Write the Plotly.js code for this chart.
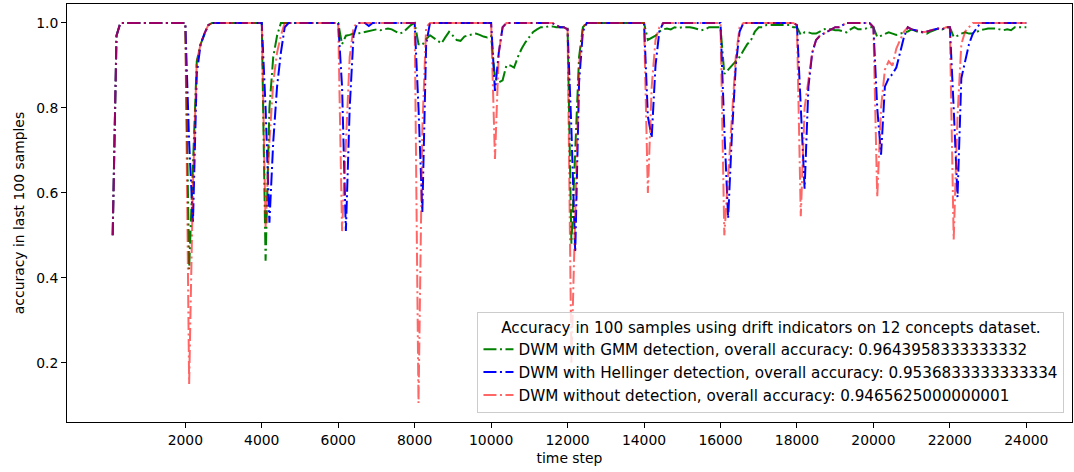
<!DOCTYPE html>
<html>
<head>
<meta charset="utf-8">
<script src="https://cdn.plot.ly/plotly-3.0.1.min.js"></script>
<style>
html,body{margin:0;padding:0;background:#fff;}
#chart{width:1074px;height:472px;}
</style>
</head>
<body>
<div id="chart"></div>
<script>
const timeSteps = [
  100,200,300,400,500,600,700,800,900,1000,1100,1200,1300,1400,1500,1600,1700,1800,1900,2000,
  2100,2200,2300,2400,2500,2600,2700,2800,2900,3000,3100,3200,3300,3400,3500,3600,3700,3800,3900,4000,
  4100,4200,4300,4400,4500,4600,4700,4800,4900,5000,5100,5200,5300,5400,5500,5600,5700,5800,5900,6000,
  6100,6200,6300,6400,6500,6600,6700,6800,6900,7000,7100,7200,7300,7400,7500,7600,7700,7800,7900,8000,
  8100,8200,8300,8400,8500,8600,8700,8800,8900,9000,9100,9200,9300,9400,9500,9600,9700,9800,9900,10000,
  10100,10200,10300,10400,10500,10600,10700,10800,10900,11000,11100,11200,11300,11400,11500,11600,11700,11800,11900,12000,
  12100,12200,12300,12400,12500,12600,12700,12800,12900,13000,13100,13200,13300,13400,13500,13600,13700,13800,13900,14000,
  14100,14200,14300,14400,14500,14600,14700,14800,14900,15000,15100,15200,15300,15400,15500,15600,15700,15800,15900,16000,
  16100,16200,16300,16400,16500,16600,16700,16800,16900,17000,17100,17200,17300,17400,17500,17600,17700,17800,17900,18000,
  18100,18200,18300,18400,18500,18600,18700,18800,18900,19000,19100,19200,19300,19400,19500,19600,19700,19800,19900,20000,
  20100,20200,20300,20400,20500,20600,20700,20800,20900,21000,21100,21200,21300,21400,21500,21600,21700,21800,21900,22000,
  22100,22200,22300,22400,22500,22600,22700,22800,22900,23000,23100,23200,23300,23400,23500,23600,23700,23800,23900,24000
];

const accGMM = [
  0.50,0.97,1,1,1,1,1,1,1,1,1,1,1,1,1,1,1,1,1,1,
  0.42,0.65,0.91,0.95,0.975,0.995,1,1,1,1,1,1,1,1,1,1,1,1,1,1,
  0.44,0.80,0.92,0.97,1,1,1,1,1,1,1,1,1,1,1,1,1,1,1,1,
  0.95,0.97,0.972,0.975,0.975,0.977,0.98,0.982,0.983,0.985,0.983,0.985,0.987,0.985,0.98,0.975,0.978,0.987,0.995,1,
  0.95,0.948,0.962,0.971,0.965,0.958,0.952,0.966,0.979,0.97,0.96,0.958,0.968,0.971,0.973,0.975,0.972,0.968,0.966,0.97,
  0.87,0.86,0.865,0.90,0.90,0.895,0.92,0.94,0.955,0.967,0.979,0.985,0.99,0.99,0.992,0.992,0.99,0.99,0.99,0.99,
  0.48,0.70,0.92,0.99,1,1,1,1,1,1,1,1,1,1,1,1,1,1,1,1,
  0.96,0.965,0.97,0.98,0.985,0.987,0.985,0.99,0.988,0.99,0.99,0.99,0.988,0.985,0.983,0.985,0.99,0.99,0.99,0.99,
  0.88,0.89,0.90,0.91,0.92,0.935,0.95,0.96,0.98,0.99,0.99,0.995,0.995,0.995,0.995,0.995,0.995,0.995,0.99,0.99,
  0.972,0.978,0.978,0.975,0.975,0.98,0.985,0.987,0.985,0.983,0.983,0.98,0.978,0.985,0.99,0.985,0.985,0.987,0.99,0.99,
  0.967,0.97,0.975,0.978,0.975,0.972,0.975,0.978,0.98,0.985,0.982,0.978,0.978,0.975,0.98,0.983,0.987,0.985,0.99,0.99,
  0.967,0.97,0.975,0.978,0.975,0.975,0.98,0.983,0.985,0.987,0.987,0.987,0.985,0.983,0.985,0.983,0.99,0.99,0.99,0.99
];

const accHellinger = [
  0.50,0.97,1,1,1,1,1,1,1,1,1,1,1,1,1,1,1,1,1,1,
  0.72,0.53,0.88,0.95,0.975,0.995,1,1,1,1,1,1,1,1,1,1,1,1,1,1,
  0.80,0.53,0.72,0.85,0.93,0.99,1,1,1,1,1,1,1,1,1,1,1,1,1,1,
  0.85,0.51,0.80,0.97,1,1,1,0.993,1,1,1,1,1,1,1,1,1,1,1,1,
  0.80,0.555,0.95,1,1,1,1,1,1,1,1,1,1,1,1,1,1,1,1,1,
  0.84,0.93,0.99,1,1,1,1,1,1,1,1,1,1,1,1,1,0.995,0.99,0.99,0.985,
  0.75,0.46,0.86,0.98,1,1,1,1,1,1,1,1,1,1,1,1,1,1,1,1,
  0.78,0.73,0.90,0.98,1,1,1,1,1,1,1,1,1,1,1,1,1,1,1,1,
  0.75,0.54,0.74,0.90,0.98,1,1,1,1,1,1,1,1,1,1,1,1,1,1,0.995,
  0.80,0.61,0.85,0.93,0.96,0.97,0.975,0.98,0.985,0.99,0.99,0.995,1,1,1,1,1,1,1,0.99,
  0.80,0.69,0.85,0.87,0.88,0.895,0.93,0.967,0.99,0.985,0.983,0.98,0.978,0.98,0.983,0.985,0.987,0.985,0.99,0.99,
  0.80,0.59,0.87,0.91,0.95,0.975,0.987,1,1,1,1,1,1,1,1,1,1,1,1,1
];

const accNoDetection = [
  0.50,0.97,1,1,1,1,1,1,1,1,1,1,1,1,1,1,1,1,1,1,
  0.15,0.62,0.91,0.95,0.975,0.995,1,1,1,1,1,1,1,1,1,1,1,1,1,1,
  0.52,0.72,0.86,0.93,0.97,1,1,1,1,1,1,1,1,1,1,1,1,1,1,1,
  0.51,0.70,0.92,0.99,1,1,1,1,1,1,1,1,1,1,1,1,1,1,1,1,
  0.105,0.75,0.99,1,1,1,1,1,1,1,1,1,1,1,1,1,1,1,1,1,
  0.68,0.93,0.99,1,1,1,1,1,1,1,1,1,1,1,1,1,0.995,0.99,0.99,0.985,
  0.20,0.55,0.90,0.99,1,1,1,1,1,1,1,1,1,1,1,1,1,1,1,1,
  0.60,0.85,0.96,0.99,1,1,1,1,1,1,1,1,1,1,1,1,1,1,1,1,
  0.50,0.65,0.78,0.92,0.99,1,1,1,1,1,1,1,1,1,1,1,1,1,1,0.995,
  0.545,0.80,0.87,0.93,0.96,0.97,0.975,0.98,0.985,0.99,0.99,0.995,1,1,1,1,1,1,1,0.99,
  0.59,0.80,0.89,0.91,0.90,0.94,0.96,0.98,0.99,0.985,0.983,0.98,0.978,0.98,0.983,0.985,0.987,0.985,0.99,0.99,
  0.49,0.78,0.95,0.98,0.99,1,1,1,1,1,1,1,1,1,1,1,1,1,1,1
];

const seriesNames = [
  "DWM with GMM detection, overall accuracy: 0.9643958333333332",
  "DWM with Hellinger detection, overall accuracy: 0.9536833333333334",
  "DWM without detection, overall accuracy: 0.9465625000000001"
];
const legendTitle = "Accuracy in 100 samples using drift indicators on 12 concepts dataset.";
const xTickVals = [2000,4000,6000,8000,10000,12000,14000,16000,18000,20000,22000,24000];
const xTickText = ["2000","4000","6000","8000","10000","12000","14000","16000","18000","20000","22000","24000"];
const yTickVals = [0.2,0.4,0.6,0.8,1.0];
const yTickText = ["0.2","0.4","0.6","0.8","1.0"];

const FONT = "DejaVu Sans, sans-serif";
const dashDot = "13px,3.5px,2px,3.5px";

const traces = [
  {x: timeSteps, y: accGMM, name: seriesNames[0], type: "scatter", mode: "lines",
   line: {color: "green", width: 2, dash: dashDot}},
  {x: timeSteps, y: accHellinger, name: seriesNames[1], type: "scatter", mode: "lines",
   line: {color: "blue", width: 2, dash: dashDot}},
  {x: timeSteps, y: accNoDetection, name: seriesNames[2], type: "scatter", mode: "lines",
   line: {color: "rgba(255,0,0,0.6)", width: 2, dash: dashDot}}
];

const layout = {
  width: 1074, height: 472,
  margin: {l: 67, r: 2, t: 4, b: 50, pad: 0},
  paper_bgcolor: "#fff", plot_bgcolor: "#fff",
  font: {family: FONT, size: 13.9, color: "#000"},
  showlegend: true,
  xaxis: {
    range: [-1095, 25195], tickvals: xTickVals, ticktext: xTickText,
    ticks: "outside", ticklen: 5, tickwidth: 1, tickcolor: "#000",
    showline: true, mirror: true, linecolor: "#000", linewidth: 1,
    showgrid: false, zeroline: false,
    tickfont: {family: FONT, size: 13.9, color: "#000"},
    title: {text: "time step", font: {family: FONT, size: 13.9, color: "#000"}, standoff: 6}
  },
  yaxis: {
    range: [0.0605, 1.0447], tickvals: yTickVals, ticktext: yTickText,
    ticks: "outside", ticklen: 5, tickwidth: 1, tickcolor: "#000",
    showline: true, mirror: true, linecolor: "#000", linewidth: 1,
    showgrid: false, zeroline: false,
    tickfont: {family: FONT, size: 13.9, color: "#000"},
    title: {text: "accuracy in last 100 samples", font: {family: FONT, size: 13.9, color: "#000"}, standoff: 8}
  },
  legend: {
    x: 0.9925, xanchor: "right", y: 0.021, yanchor: "bottom",
    bgcolor: "rgba(255,255,255,0.8)", bordercolor: "#cccccc", borderwidth: 1,
    font: {family: FONT, size: 15.2, color: "#000"},
    title: {text: legendTitle, side: "top center", font: {family: FONT, size: 15.2, color: "#000"}},
    tracegroupgap: 0
  }
};

Plotly.newPlot("chart", traces, layout, {displayModeBar: false, staticPlot: true});
</script>
</body>
</html>
